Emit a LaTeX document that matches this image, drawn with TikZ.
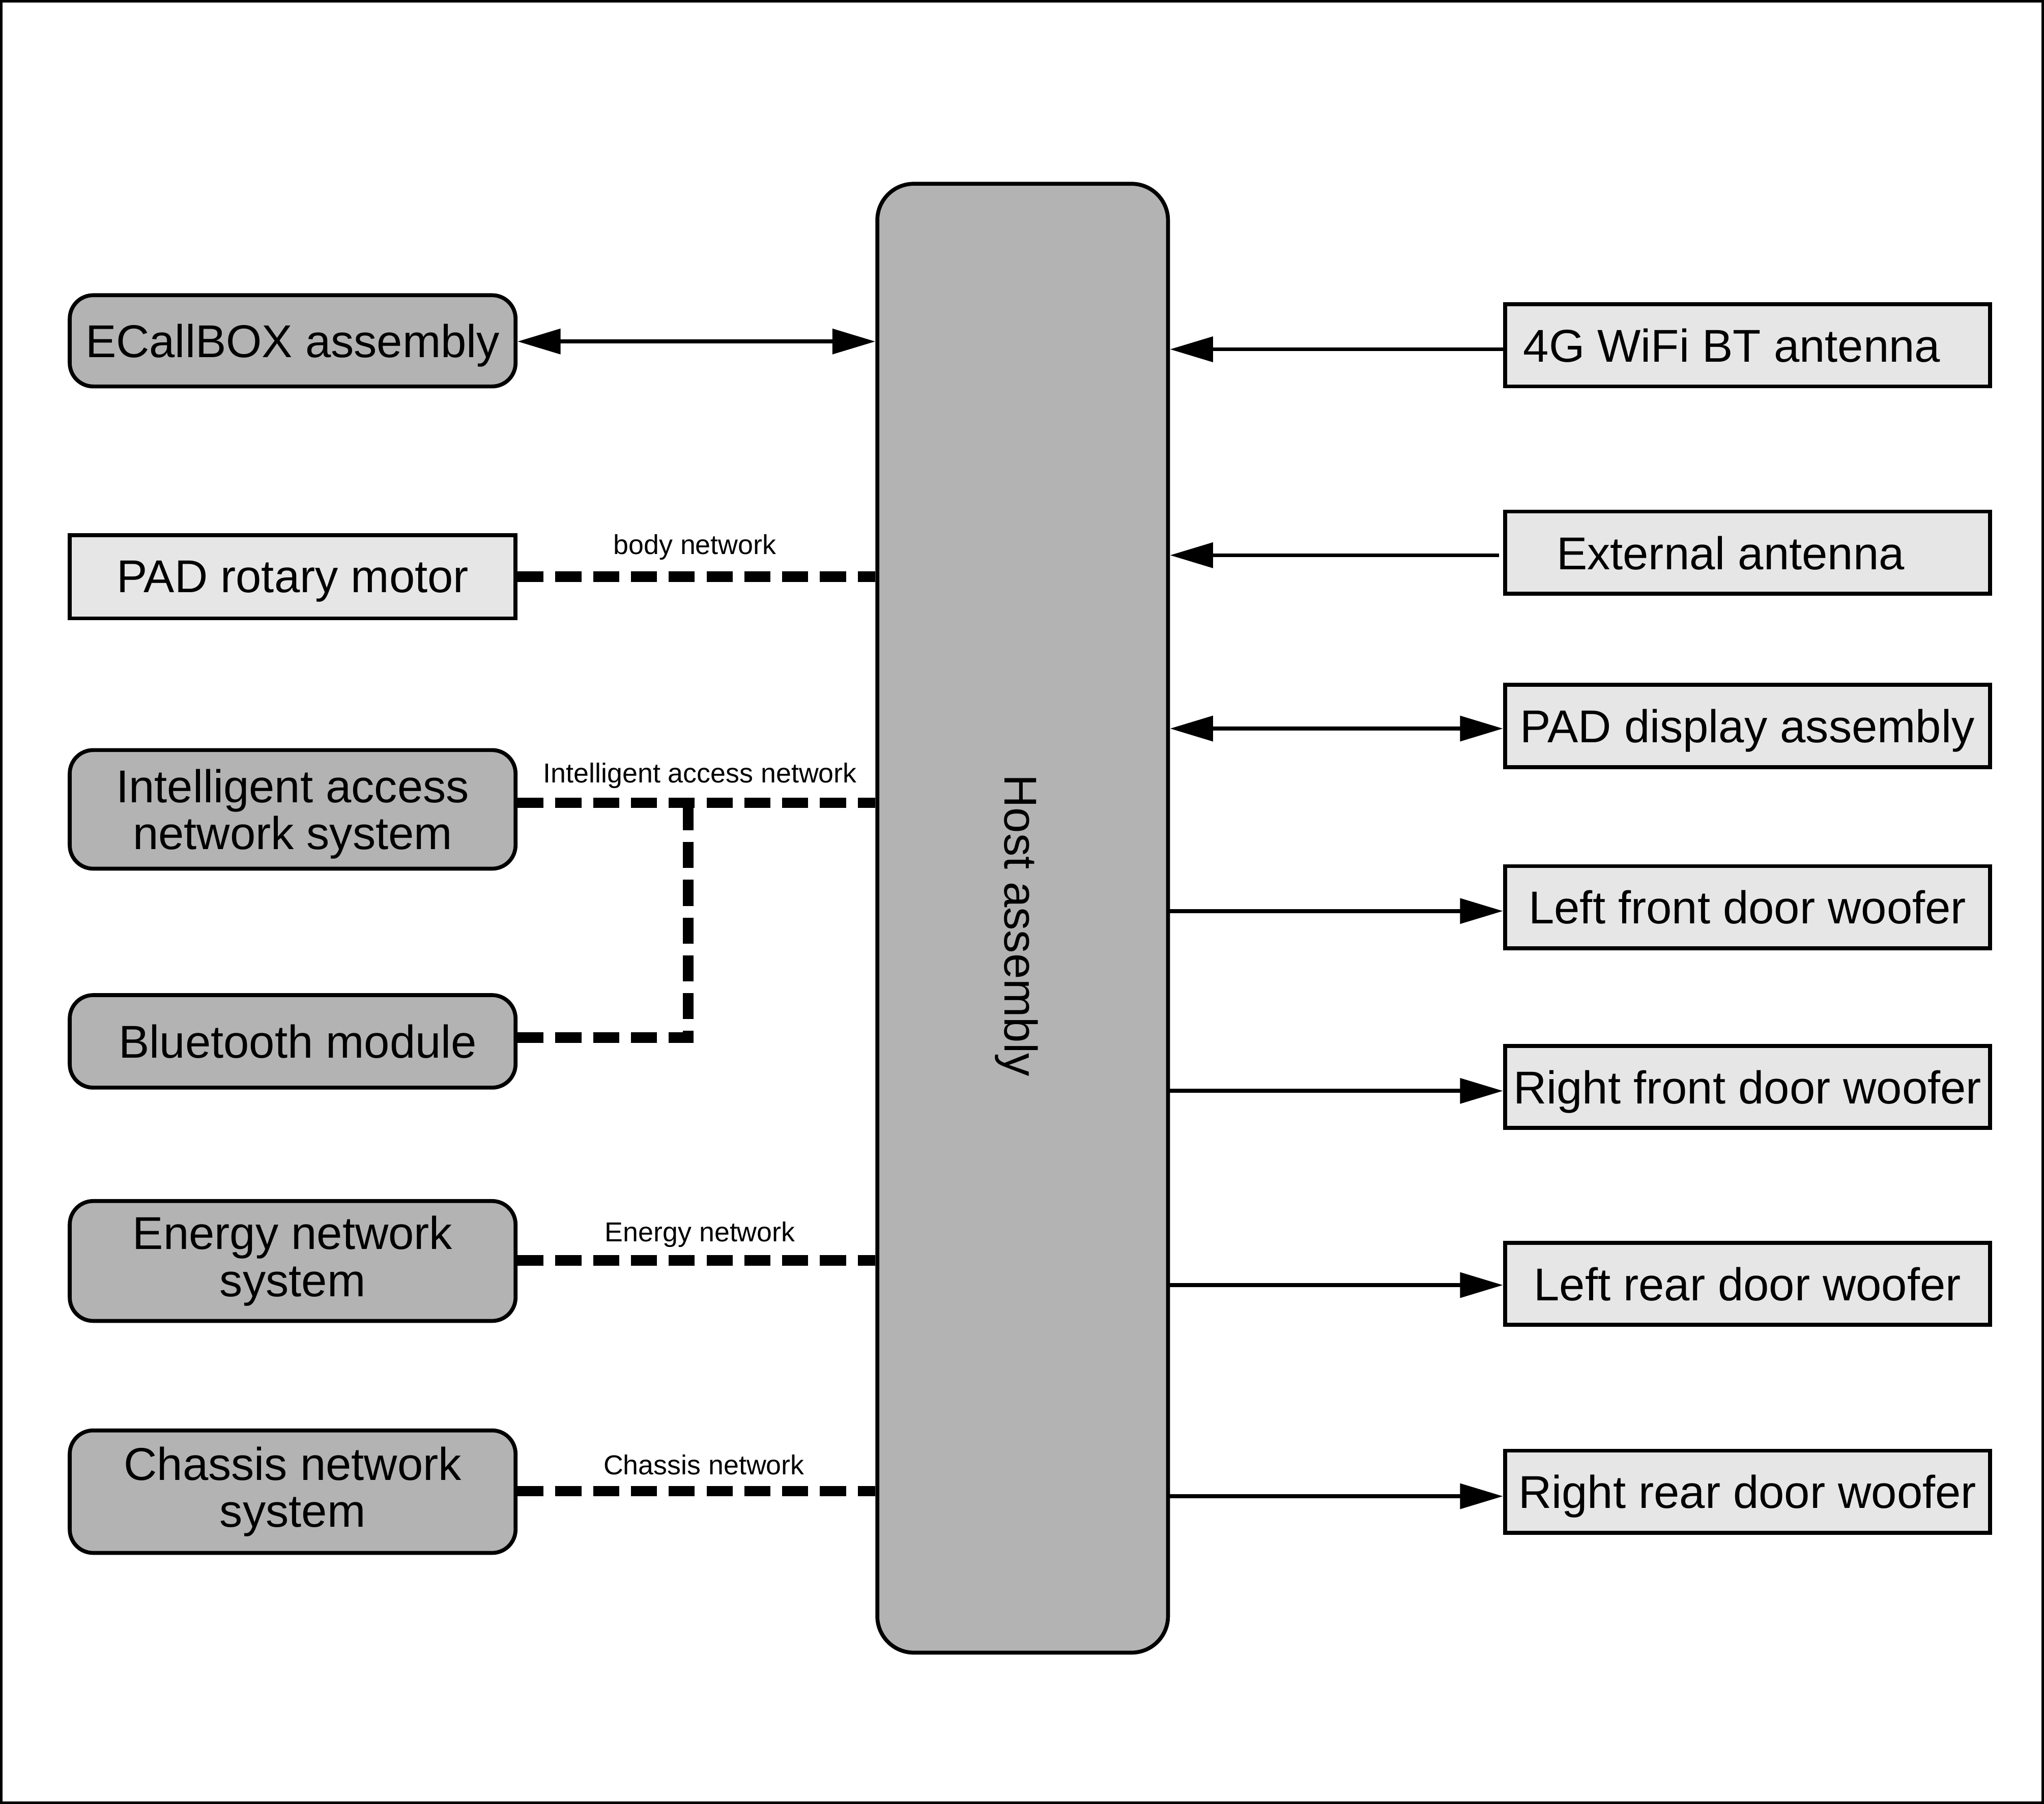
\documentclass[tikz,border=0pt]{standalone}
\usepackage{fontspec}
\setmainfont{Liberation Sans}
\usetikzlibrary{arrows.meta}
\definecolor{boxgray}{RGB}{179,179,179}
\definecolor{boxlight}{RGB}{230,230,230}
\begin{document}
\begin{tikzpicture}[x=1pt,y=-1pt,
  bigfont/.style={font=\fontsize{35.3}{36}\selectfont},
  smallfont/.style={font=\fontsize{21}{24}\selectfont},
  gbox/.style={draw, line width=3pt, fill=boxgray, rounded corners=18pt,
    minimum width=342pt, inner sep=0pt, align=center, bigfont},
  pbox/.style={draw, line width=3pt, fill=boxlight,
    minimum width=342pt, inner sep=0pt, align=center, bigfont},
  rbox/.style={draw, line width=3pt, fill=boxlight, text depth=0pt,
    minimum width=372pt, minimum height=63pt, inner sep=0pt, align=center, bigfont},
  tip/.tip={Triangle[length=33pt,width=19pt]},
  onearrow/.style={line width=3pt, -tip},
  twoarrow/.style={line width=3pt, tip-tip},
  netline/.style={line width=8pt, dash pattern=on 20pt off 9pt},
  netlabel/.style={inner sep=0pt, smallfont}
]
\useasboundingbox (0,0) rectangle (1568,1384);
\draw[line width=2pt] (1,1) rectangle (1567,1383);

% host
\node[draw, line width=3pt, fill=boxgray, rounded corners=28pt,
  minimum width=223pt, minimum height=1127pt] (host) at (784.5,704.5) {};
\node[rotate=-90, inner sep=0pt, bigfont] (hostlabel) at (780,710) {Host assembly};

% left column
\node[gbox, text depth=0pt, minimum height=70pt] (ecall) at (224.5,261.5) {ECallBOX assembly};
\node[pbox, text depth=0pt, minimum height=64pt] (padm) at (224.5,442.5) {PAD rotary motor};
\node[gbox, text depth=0pt, minimum height=91pt] (ian) at (224.5,621) {Intelligent access\\network system};
\node[gbox, minimum height=71pt] (bt) at (224.5,799) {\hspace*{8pt}Bluetooth module};
\node[gbox, minimum height=92pt] (ens) at (224.5,967.5) {Energy network\\system};
\node[gbox, minimum height=94pt] (chs) at (224.5,1144.5) {Chassis network\\system};

% right column
\node[rbox] (ant4g) at (1340.5,265) {4G WiFi BT antenna\hspace*{24pt}};
\node[rbox] (extant) at (1340.5,424) {External antenna\hspace*{26pt}};
\node[rbox] (paddisp) at (1340.5,557) {PAD display assembly};
\node[rbox] (lfw) at (1340.5,696) {Left front door woofer};
\node[rbox] (rfw) at (1340.5,834) {Right front door woofer};
\node[rbox] (lrw) at (1340.5,985) {Left rear door woofer};
\node[rbox] (rrw) at (1340.5,1144.5) {Right rear door woofer};

% connector heights
\coordinate (yE) at (0,262);
\coordinate (yI) at (0,616);
\coordinate (yB) at (0,796);
\coordinate (yN) at (0,967);
\coordinate (yC) at (0,1144);
\coordinate (yR1) at (0,268);
\coordinate (yR2) at (0,426);
\coordinate (yR3) at (0,559);
\coordinate (yR4) at (0,699);
\coordinate (yR5) at (0,837);
\coordinate (yR6) at (0,986);
\coordinate (yR7) at (0,1148);
\coordinate (btbend) at (528,796);
\coordinate (btjoin) at (528,616);

% left connectors
\draw[twoarrow] (ecall.east |- yE) -- (host.west |- yE);
\draw[netline] (padm.east) -- (padm.east -| host.west);
\draw[netline] (ian.east |- yI) -- (host.west |- yI);
\draw[netline] (bt.east |- yB) -- (btbend) -- (btjoin);
\draw[netline] (ens.east |- yN) -- (host.west |- yN);
\draw[netline] (chs.east |- yC) -- (host.west |- yC);

\node[netlabel] (lbody) at (533,420) {body network};
\node[netlabel] (lian) at (537,595) {Intelligent access network};
\node[netlabel] (lens) at (537,947) {Energy network};
\node[netlabel] (lchs) at (540,1124) {Chassis network};

% right connectors
\draw[onearrow] (ant4g.west |- yR1) -- (host.east |- yR1);
\draw[onearrow, shorten <=3pt] (extant.west |- yR2) -- (host.east |- yR2);
\draw[twoarrow] (host.east |- yR3) -- (paddisp.west |- yR3);
\draw[onearrow] (host.east |- yR4) -- (lfw.west |- yR4);
\draw[onearrow] (host.east |- yR5) -- (rfw.west |- yR5);
\draw[onearrow] (host.east |- yR6) -- (lrw.west |- yR6);
\draw[onearrow] (host.east |- yR7) -- (rrw.west |- yR7);
\end{tikzpicture}
\end{document}
